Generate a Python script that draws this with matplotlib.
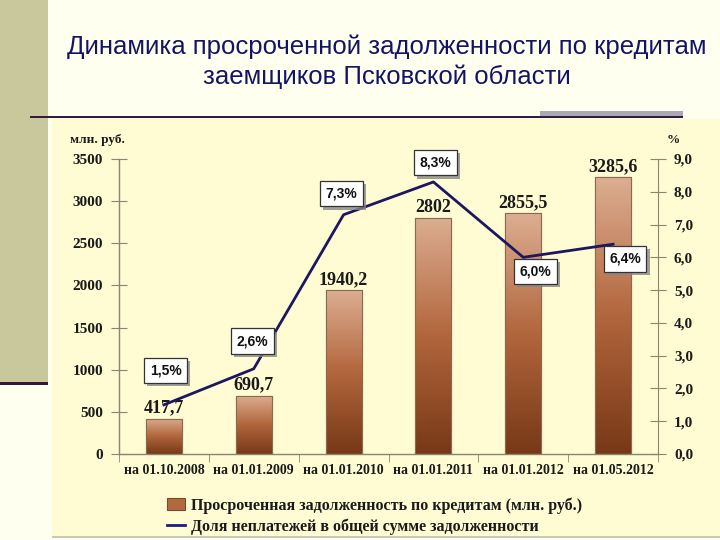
import numpy as np
import matplotlib
matplotlib.use("Agg")
import matplotlib.pyplot as plt
import matplotlib.patheffects as pe
from matplotlib.patches import Rectangle
from matplotlib.lines import Line2D
from matplotlib.colors import LinearSegmentedColormap

# ---------------- data ----------------
categories = ["на 01.10.2008", "на 01.01.2009", "на 01.01.2010",
              "на 01.01.2011", "на 01.01.2012", "на 01.05.2012"]
debt = [417.7, 690.7, 1940.2, 2802, 2855.5, 3285.6]
debt_labels = ["417,7", "690,7", "1940,2", "2802", "2855,5", "3285,6"]
share = [1.5, 2.6, 7.3, 8.3, 6.0, 6.4]
share_labels = ["1,5%", "2,6%", "7,3%", "8,3%", "6,0%", "6,4%"]
left_ticks = [0, 500, 1000, 1500, 2000, 2500, 3000, 3500]
right_ticks = [0, 1, 2, 3, 4, 5, 6, 7, 8, 9]
right_tick_labels = ["0,0", "1,0", "2,0", "3,0", "4,0", "5,0", "6,0", "7,0", "8,0", "9,0"]
title = "Динамика просроченной задолженности по кредитам\nзаемщиков Псковской области"
legend_labels = ["Просроченная задолженность по кредитам (млн. руб.)",
                 "Доля неплатежей в общей сумме задолженности"]

# offsets (points) of the percentage boxes relative to the line points
share_offsets = [(1.4, 25), (-0.7, 20), (-1.4, 15), (1.4, 13.7), (8.6, -10), (8.6, -10.6)]

W, H = 720, 540
SERIF = "Liberation Serif"
SANS = "Liberation Sans"
AXC = "#8c8470"

fig = plt.figure(figsize=(7.2, 5.4), dpi=100)
fig.patch.set_facecolor("#fffff0")


def fr(x0, y0, x1, y1):
    return (x0 / W, 1 - y1 / H, (x1 - x0) / W, (y1 - y0) / H)


def frect(x0, y0, x1, y1, color, z=0):
    l, b, w, h = fr(x0, y0, x1, y1)
    fig.add_artist(Rectangle((l, b), w, h, transform=fig.transFigure,
                             facecolor=color, edgecolor="none", zorder=z))


# slide decoration
frect(52, 119, 720, 536, "#fffbd3", z=0)
frect(52, 536, 720, 538, "#c8c8b8", z=0)
frect(0, 0, 48, 382, "#c9c89c", z=0)
frect(0, 382, 48, 385, "#3a1434", z=0)
frect(540, 111, 683, 116, "#a8a8b6", z=1)
frect(30, 116, 683, 118, "#3a1a3a", z=2)

fig.text(387 / W, 1 - 62 / H, title, ha="center", va="center",
         fontsize=18.5, family=SANS, color="#141466", linespacing=1.3)

# ---------------- axes ----------------
ax = fig.add_axes(fr(119, 159, 658, 454))
ax.set_facecolor("none")
x = np.arange(len(categories)) + 0.5

bars = ax.bar(x, debt, width=0.4, color="#b56a40", edgecolor="#8a6a50",
              linewidth=0.8, zorder=2)
cmap = LinearSegmentedColormap.from_list("brown", ["#773817", "#b2663c", "#dcae92"])
grad = np.linspace(0, 1, 256).reshape(-1, 1)
for b in bars:
    x0, y0 = b.get_x(), b.get_y()
    im = ax.imshow(grad, extent=[x0, x0 + b.get_width(), y0, y0 + b.get_height()],
                   origin="lower", aspect="auto", cmap=cmap, zorder=2.5)
    im.set_clip_path(b)
for b in bars:
    ax.add_patch(Rectangle((b.get_x(), b.get_y()), b.get_width(), b.get_height(),
                           facecolor="none", edgecolor="#8a6a50", linewidth=0.8, zorder=3))

for xi, v, lbl in zip(x, debt, debt_labels):
    ax.annotate(lbl, (xi, v), xytext=(0, 1.5), textcoords="offset points",
                ha="center", va="bottom", fontsize=13, family=SERIF,
                fontweight="bold", color="#1a1a1a", zorder=4)

ax.set_xlim(0, len(categories))
ax.set_ylim(0, 3500)
ax.set_yticks(left_ticks)
ax.set_yticklabels([str(t) for t in left_ticks])
ax.set_xticks(x)
ax.set_xticklabels(categories)
ax.set_xticks(np.arange(len(categories) + 1), minor=True)
ax.tick_params(axis="x", which="major", length=0, pad=7)
ax.tick_params(axis="x", which="minor", length=6, direction="out", color=AXC)
ax.tick_params(axis="y", direction="inout", length=11, color=AXC, pad=6)
for lab in ax.get_xticklabels():
    lab.set_fontfamily(SERIF)
    lab.set_fontweight("bold")
    lab.set_fontsize(10)
    lab.set_color("#1a1a1a")
for lab in ax.get_yticklabels():
    lab.set_fontfamily(SERIF)
    lab.set_fontweight("bold")
    lab.set_fontsize(11)
    lab.set_color("#1a1a1a")
for s in ["top", "right"]:
    ax.spines[s].set_visible(False)
for s in ["left", "bottom"]:
    ax.spines[s].set_color(AXC)
    ax.spines[s].set_linewidth(1)

ax2 = ax.twinx()
ax2.set_ylim(0, 9)
ax2.set_yticks(right_ticks)
ax2.set_yticklabels(right_tick_labels)
ax2.tick_params(axis="y", direction="inout", length=11, color=AXC, pad=6)
for lab in ax2.get_yticklabels():
    lab.set_fontfamily(SERIF)
    lab.set_fontweight("bold")
    lab.set_fontsize(11)
    lab.set_color("#1a1a1a")
for s in ["top", "left", "bottom"]:
    ax2.spines[s].set_visible(False)
ax2.spines["right"].set_color(AXC)

ax2.plot(x, share, color="#1e1660", linewidth=2, zorder=5)
for xi, s, lbl, (dx, dy) in zip(x, share, share_labels, share_offsets):
    t = ax2.annotate(lbl, (xi, s), xytext=(dx, dy), textcoords="offset points",
                     ha="center", va="center", fontsize=10, family=SANS,
                     fontweight="bold", color="#111111", zorder=6,
                     bbox=dict(boxstyle="square,pad=0.4", facecolor="white",
                               edgecolor="#333333", linewidth=0.9))
    t.get_bbox_patch().set_path_effects([
        pe.SimplePatchShadow(offset=(2.2, -2.2), shadow_rgbFace="#888888", alpha=0.8),
        pe.Normal()])

fig.text(97 / W, 1 - 140 / H, "млн. руб.", ha="center", va="center",
         fontsize=9.5, family=SERIF, fontweight="bold", color="#1a1a1a")
fig.text(673 / W, 1 - 140 / H, "%", ha="center", va="center",
         fontsize=9.5, family=SERIF, fontweight="bold", color="#1a1a1a")

handles = [Rectangle((0, 0), 1, 1, facecolor="#b06a40", edgecolor="#7a4a30", linewidth=0.8),
           Line2D([0], [0], color="#1e1a80", linewidth=2)]
leg = fig.legend(handles, legend_labels, loc="upper left",
                 bbox_to_anchor=(167 / W, 1 - 497 / H), frameon=False,
                 handlelength=1.1, handleheight=0.75, handletextpad=0.4,
                 labelspacing=0.3, borderaxespad=0, borderpad=0,
                 prop=dict(family=SERIF, weight="bold", size=11.5))
for t in leg.get_texts():
    t.set_color("#1a1a1a")

fig.savefig("out.png", dpi=100, facecolor=fig.get_facecolor())
